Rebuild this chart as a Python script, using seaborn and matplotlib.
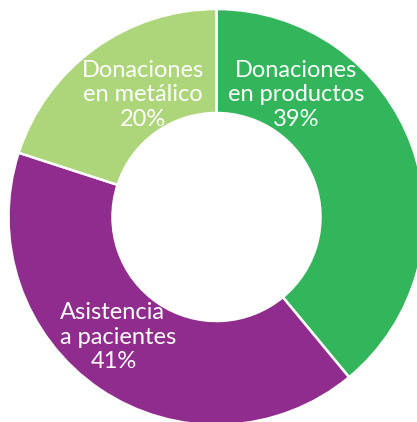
import matplotlib
matplotlib.use("Agg")
import matplotlib.pyplot as plt
import seaborn as sns

# Datos del gráfico (en sentido horario desde arriba)
categorias = ["Donaciones\nen productos", "Asistencia\na pacientes", "Donaciones\nen metálico"]
porcentajes = [39, 41, 20]
colores = ["#33b55b", "#8f2c8d", "#add57a"]

sns.set_style("white")
plt.rcParams["font.family"] = ["Lato", "DejaVu Sans"]

fig = plt.figure(figsize=(4.17, 4.22), dpi=100)
# centro del anillo en (216.5, 217) px, radio exterior 208 px
ax = fig.add_axes([(216.5 - 208) / 417, (422 - 217 - 208) / 422, 416 / 417, 416 / 422])

ax.pie(porcentajes, colors=colores, startangle=90, counterclock=False,
       radius=1, wedgeprops=dict(width=0.5, edgecolor="white", linewidth=1.8))
ax.set_xlim(-1, 1)
ax.set_ylim(-1, 1)
ax.set_aspect("auto")
ax.axis("off")

estilo = dict(color="white", fontsize=17, linespacing=1.22)

# Donaciones en productos
ax.text(0.382, 0.587, f"{categorias[0]}\n{porcentajes[0]}%", ha="center", va="center", **estilo)
# Donaciones en metálico
ax.text(-0.353, 0.587, f"{categorias[2]}\n{porcentajes[2]}%", ha="center", va="center", **estilo)
# Asistencia a pacientes
ax.text(-0.753, -0.519, categorias[1], ha="left", va="center", multialignment="left", **estilo)
ax.text(-0.493, -0.697, f"{porcentajes[1]}%", ha="center", va="center", **estilo)

fig.savefig("out.png", dpi=100)
